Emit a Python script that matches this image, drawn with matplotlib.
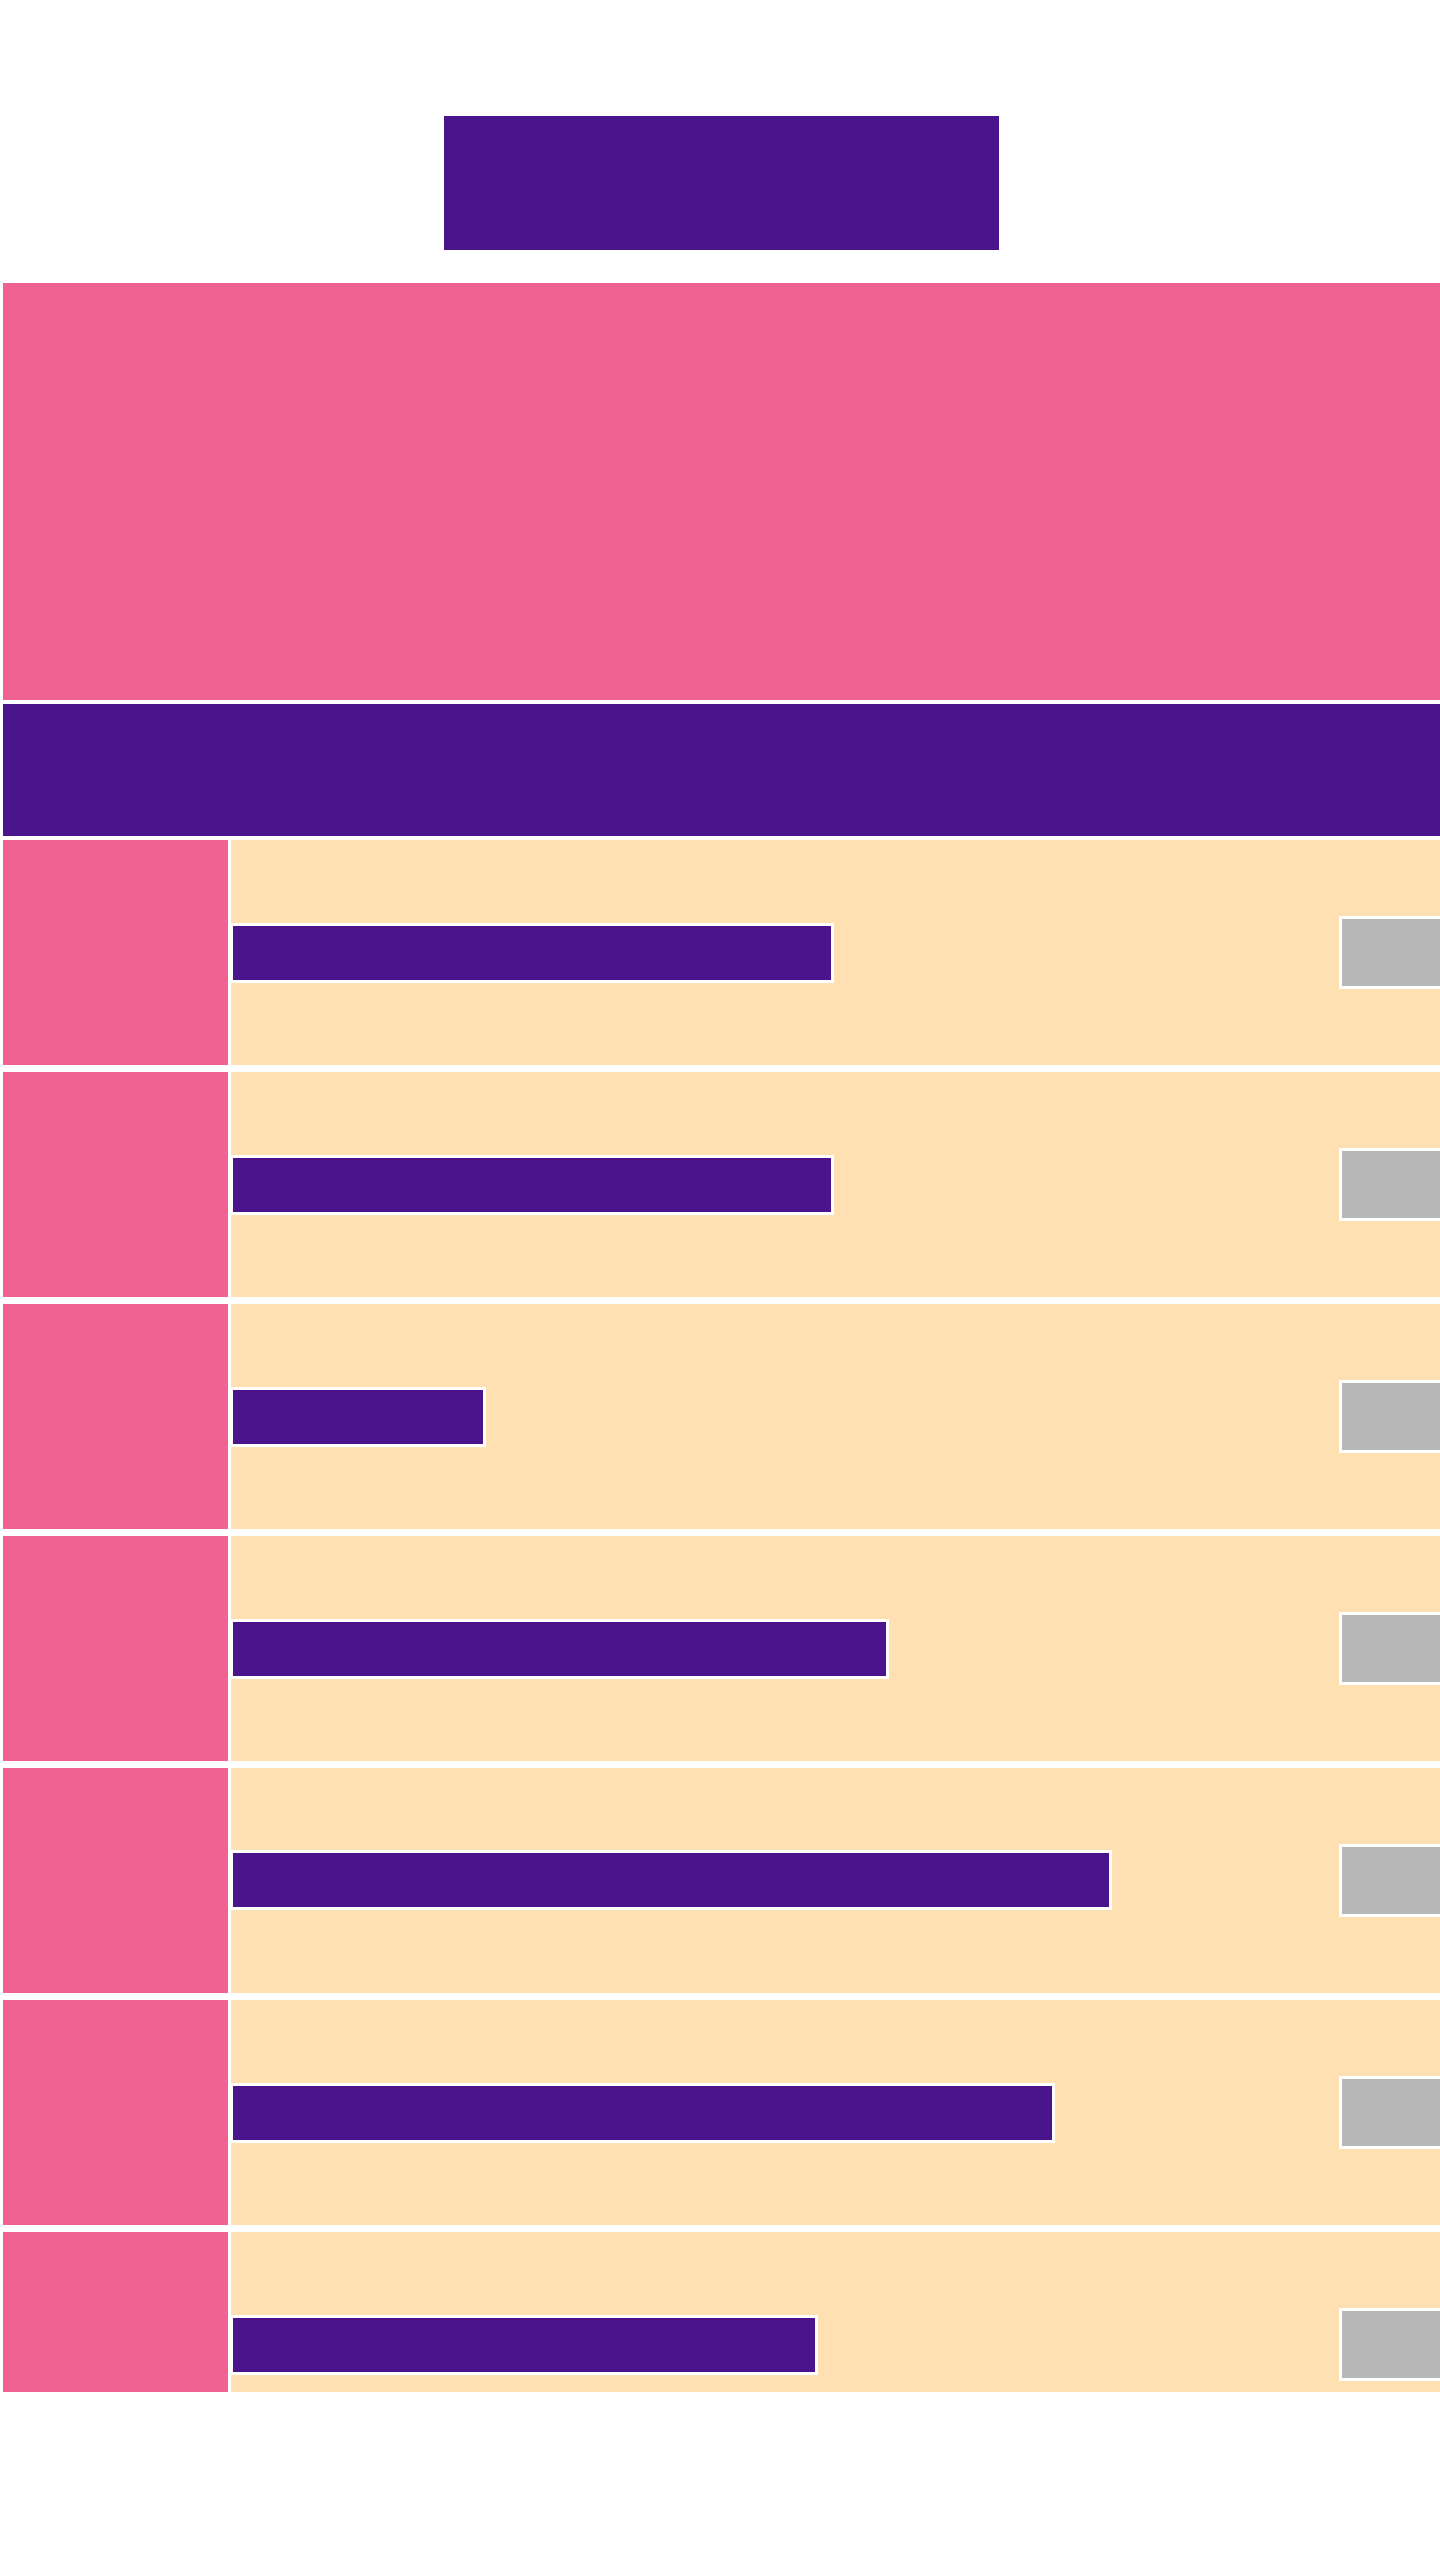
import matplotlib
matplotlib.use("Agg")
import matplotlib.pyplot as plt
from matplotlib.patches import Rectangle
import numpy as np

# Row data (bar lengths on a 0-100 scale)
rows = ["row 1", "row 2", "row 3", "row 4", "row 5", "row 6", "row 7"]
values = [49.7, 49.7, 20.9, 54.3, 72.7, 68.0, 48.4]

purple = "#4a148c"
pink = "#f06292"
beige = "#ffe0b2"
gray = "#b7b7b7"

W, H = 1440, 2560
fig = plt.figure(figsize=(W / 100, H / 100), dpi=100)
fig.patch.set_facecolor("white")


def px_box(x0, y0, x1, y1):
    # pixel box (top-left origin) -> figure fraction [left, bottom, width, height]
    return [x0 / W, 1 - y1 / H, (x1 - x0) / W, (y1 - y0) / H]


def block(x0, y0, x1, y1, color):
    l, b, w, h = px_box(x0, y0, x1, y1)
    fig.add_artist(Rectangle((l, b), w, h, transform=fig.transFigure,
                             facecolor=color, edgecolor="none"))


# title box, header panel and sub-header band
block(444, 116, 999, 250, purple)
block(3, 283, W, 700, pink)
block(3, 704, W, 836, purple)

# row grid: label column + bar column
pitch = 232.0
top, bottom = 840, 2392
n_units = (bottom - top) / pitch
row_h = 225 / pitch
y = np.arange(len(rows)) + row_h / 2

ax_lab = fig.add_axes(px_box(3, top, 228, bottom))
ax = fig.add_axes(px_box(231, top, W, bottom))

for a in (ax_lab, ax):
    a.set_ylim(n_units, 0)
    a.set_axis_off()

ax_lab.set_xlim(0, 1)
ax_lab.barh(y, 1, height=row_h, left=0, color=pink, edgecolor="none")

ax.set_xlim(0, 100)
ax.barh(y, 100, height=row_h, left=0, color=beige, edgecolor="none")

lw = 3 * 72 / 100
bar_y = np.arange(len(rows)) + 112 / pitch
ax.barh(bar_y, values, height=57 / pitch, left=0, color=purple,
        edgecolor="white", linewidth=lw)

# grey value tags at the right end of each row
tag_left = (1339.5 - 231) / (W - 231) * 100
ax.barh(bar_y, 20, height=70 / pitch, left=tag_left, color=gray,
        edgecolor="white", linewidth=lw)

fig.savefig("out.png", dpi=100, facecolor="white")
